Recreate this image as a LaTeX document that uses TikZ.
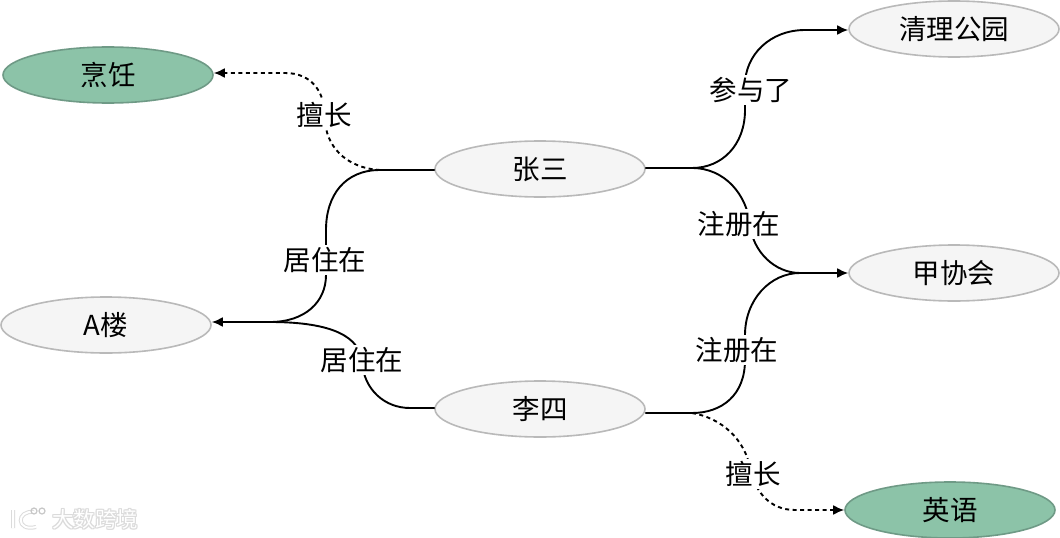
\documentclass[tikz,border=0pt]{standalone}
\usepackage{fontspec}
\setmainfont{Noto Sans CJK SC}
\usetikzlibrary{arrows.meta,shapes.geometric}
\definecolor{plainfill}{HTML}{F5F5F5}
\definecolor{plainline}{HTML}{B9B9B9}
\definecolor{skillfill}{HTML}{8CC3A8}
\definecolor{skillline}{HTML}{6F9A86}
\tikzset{%
  entity/.style   = {shape=ellipse, draw=plainline, fill=plainfill, line width=1.6pt,%
                     minimum width=210pt, minimum height=56pt, inner sep=0pt,%
                     font=\fontsize{27.5}{30}\selectfont},%
  skill/.style    = {entity, draw=skillline, fill=skillfill},%
  relation/.style = {fill=white, inner sep=2pt, font=\fontsize{27.5}{30}\selectfont},%
  link/.style     = {line width=1.9pt, line cap=round},%
  linkto/.style   = {link, -{Latex[length=11pt,width=10pt]}},%
  hobby/.style    = {line width=1.9pt, dash pattern=on 4pt off 3.5pt},%
  hobbyto/.style  = {hobby, -{Latex[length=11pt,width=10pt]}},%
  markhalo/.style = {text=black!14, inner sep=0pt, font=\fontsize{21.5}{24}\selectfont}%
}
\begin{document}
\begin{tikzpicture}[x=1pt,y=-1pt]
	\useasboundingbox (0,0) rectangle (1060,538);
	\node (cooking) at (108,75)  [skill]  {烹饪};
	\node (park)    at (954,29)  [entity] {清理公园};
	\node (zhang)   at (540,169) [entity] {张三};
	\node (club)    at (954,273) [entity] {甲协会};
	\node (house)   at (106,325) [entity] {A楼};
	\node (li)      at (540,409) [entity] {李四};
	\node (english) at (950,510) [skill]  {英语};
	\coordinate (zhangw) at (380,170);
	\coordinate (zhange) at (692,168);
	\coordinate (lie)    at (692,413);
	\coordinate (clubin) at (800,273);
	\coordinate (housein) at (270,322);
	\coordinate (parkin) at (805,30);
	% solid links
	\draw [link] ([yshift=-1pt]zhang.west) -- (zhangw) .. controls (345,170) and (326,195) .. (326,230)
		-- (326,275) .. controls (326,302) and (305,322) .. (housein);
	\draw [linkto] (housein) -- ([yshift=3pt]house.east);
	\draw [link] ([yshift=1pt]li.west) -- (410,408) .. controls (385,408) and (364,390) .. (362,362)
		.. controls (360,338) and (335,322) .. (housein);
	\draw [link] ([yshift=1pt]zhang.east) -- (zhange) .. controls (722,168) and (745,145) .. (745,110)
		-- (745,85) .. controls (745,55) and (770,30) .. (parkin);
	\draw [linkto] (parkin) -- ([yshift=-1pt]park.west);
	\draw [link] (zhange) .. controls (725,168) and (747,195) .. (750,225)
		.. controls (753,252) and (775,273) .. (clubin);
	\draw [link] ([yshift=-4pt]li.east) -- (lie) .. controls (722,413) and (745,395) .. (745,360)
		-- (745,335) .. controls (745,300) and (770,273) .. (clubin);
	\draw [linkto] (clubin) -- (club.west);
	% dashed links
	\draw [hobbyto] (zhangw) .. controls (345,168) and (325,145) .. (325,118)
		.. controls (325,92) and (312,73) .. (285,73) -- (cooking.east |- 0,73);
	\draw [hobbyto] (lie) .. controls (722,418) and (745,440) .. (750,468)
		.. controls (755,492) and (770,510) .. (795,510) -- (english.west);
	% labels
	\node (skilla) at (324,115) [relation] {擅长};
	\node (livea)  at (325,260) [relation] {居住在};
	\node (liveb)  at (362,360) [relation] {居住在};
	\node (join)   at (751,90)  [relation] {参与了};
	\node (rega)   at (739,224) [relation] {注册在};
	\node (regb)   at (737,350) [relation] {注册在};
	\node (skillb) at (753,474) [relation] {擅长};
	% watermark
	\foreach \dx/\dy in {-1/0,1/0,0/-1,0/1,-1/-1,1/1,-1/1,1/-1}
		\node at (95+\dx,519+\dy) [markhalo] {大数跨境};
	\node (mark) at (95,519) [markhalo, text=white] {大数跨境};
	\draw [black!14, line width=4pt] (13,510) -- (13,528) (34,512) .. controls (16,510) and (16,532) .. (36,527);
	\draw [white, line width=2pt] (13,510) -- (13,528) (34,512) .. controls (16,510) and (16,532) .. (36,527);
	\draw [black!22, line width=1.2pt] (34,511) circle (3pt) (42,511) circle (3pt);
\end{tikzpicture}
\end{document}
